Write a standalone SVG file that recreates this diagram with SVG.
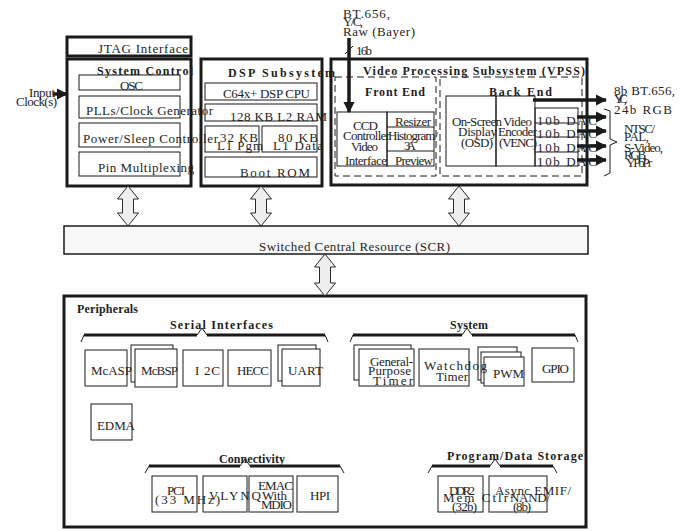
<svg xmlns="http://www.w3.org/2000/svg" width="685" height="531" viewBox="0 0 685 531">
<defs>
<style>
text{font-family:"Liberation Serif","Times New Roman",serif;font-size:13px;fill:#1e1e1e}
.b{font-weight:bold;font-size:12px}
.thick{fill:none;stroke:#1a1a1a;stroke-width:3}
.thin{fill:none;stroke:#1a1a1a;stroke-width:1}
.thinw{fill:#fff;stroke:#1a1a1a;stroke-width:1}
.dash{fill:none;stroke:#1a1a1a;stroke-width:1;stroke-dasharray:7,4}
.bus{fill:#eeeeee;stroke:#2a2a2a;stroke-width:1}
.brace{fill:none;stroke:#1a1a1a;stroke-width:1}
.braceT{fill:none;stroke:#1a1a1a;stroke-width:3}
.ln{fill:none;stroke:#1a1a1a;stroke-width:1}
.tk{fill:none;stroke:#1a1a1a;stroke-width:3.5}
</style>
<marker id="ah" viewBox="0 0 10 10" refX="9" refY="5" markerWidth="3.2" markerHeight="3.2" orient="auto" markerUnits="strokeWidth">
<path d="M0,0 L10,5 L0,10 Z" fill="#1a1a1a"/>
</marker>
</defs>
<rect width="685" height="531" fill="#fff"/>

<g id="input-clock">
<text x="29" y="97" textLength="26">Input</text>
<text x="16" y="106" textLength="41">Clock(s)</text>
</g>

<g id="jtag">
<rect class="thick" x="67" y="37" width="124" height="19"/>
<text x="98" y="53" textLength="90">JTAG Interface</text>
</g>

<g id="system-control">
<rect class="thick" x="67" y="59" width="124" height="127"/>
<rect class="thin" x="79" y="75" width="101" height="15"/>
<rect class="thin" x="79" y="96" width="101" height="22"/>
<rect class="thin" x="79" y="123" width="101" height="24"/>
<rect class="thin" x="79" y="152" width="101" height="24"/>
<text class="b" x="97" y="75" textLength="96">System Control</text>
<text x="120" y="90" textLength="23">OSC</text>
<text x="86" y="115" textLength="127">PLLs/Clock Generator</text>
<text x="83" y="143" textLength="135">Power/Sleep Controller</text>
<text x="98" y="172" textLength="96">Pin Multiplexing</text>
</g>

<g id="dsp-subsystem">
<rect class="thick" x="201" y="59" width="121" height="127"/>
<rect class="thin" x="205" y="83" width="112" height="17"/>
<rect class="thin" x="205" y="104" width="112" height="17"/>
<rect class="thin" x="205" y="126" width="54" height="26"/>
<rect class="thin" x="262" y="126" width="55" height="26"/>
<rect class="thin" x="205" y="157" width="112" height="20"/>
<text class="b" x="228" y="77" textLength="107">DSP Subsystem</text>
<text x="223" y="98" textLength="87">C64x+ DSP CPU</text>
<text x="230" y="121" textLength="97">128 KB L2 RAM</text>
<text x="220" y="142" textLength="38">32 KB</text>
<text x="217" y="150" textLength="46">L1 Pgm</text>
<text x="278" y="142" textLength="40">80 KB</text>
<text x="273" y="150" textLength="50">L1 Data</text>
<text x="240" y="177" textLength="70">Boot ROM</text>
</g>

<g id="vpss">
<rect class="thick" x="331" y="59" width="256" height="126"/>
<rect class="dash" x="335" y="77" width="101" height="99"/>
<rect class="thin" x="337" y="112" width="50" height="54"/>
<rect class="thin" x="387" y="112" width="47" height="54"/>
<line class="ln" x1="387" y1="127" x2="434" y2="127"/>
<line class="ln" x1="387" y1="151" x2="434" y2="151"/>
<rect class="dash" x="440" y="77" width="142" height="99"/>
<rect class="thin" x="446" y="96" width="50" height="70"/>
<rect class="thin" x="496" y="96" width="39" height="70"/>
<rect class="thin" x="535" y="108" width="43" height="58"/>
<line class="ln" x1="535" y1="123" x2="578" y2="123"/>
<line class="ln" x1="535" y1="137" x2="578" y2="137"/>
<line class="ln" x1="535" y1="152" x2="578" y2="152"/>
<text class="b" x="363" y="75" textLength="222">Video Processing Subsystem (VPSS)</text>
<text class="b" x="365" y="96" textLength="60">Front End</text>
<text x="353" y="130" textLength="25">CCD</text>
<text x="343" y="140" textLength="47">Controller</text>
<text x="351" y="151" textLength="27">Video</text>
<text x="345" y="165" textLength="42">Interface</text>
<text x="395" y="126" textLength="36">Resizer</text>
<text x="388" y="140" textLength="50">Histogram/</text>
<text x="404" y="150" textLength="12">3A</text>
<text x="395" y="165" textLength="38">Preview</text>
<text class="b" x="489" y="96" textLength="63">Back End</text>
<text x="452" y="126" textLength="50">On-Screen</text>
<text x="458" y="136" textLength="39">Display</text>
<text x="461" y="147" textLength="32">(OSD)</text>
<text x="503" y="126" textLength="29">Video</text>
<text x="498" y="136" textLength="39">Encoder</text>
<text x="499" y="147" textLength="38">(VENC)</text>
<text x="537" y="125" textLength="60">10b DAC</text>
<text x="537" y="138" textLength="60">10b DAC</text>
<text x="537" y="152" textLength="60">10b DAC</text>
<text x="537" y="166" textLength="60">10b DAC</text>
</g>

<g id="vpss-labels">
<text x="343" y="18" textLength="47">BT.656,</text>
<text x="343" y="26" textLength="20">Y/C,</text>
<text x="343" y="36" textLength="72">Raw (Bayer)</text>
<text x="356" y="55" textLength="16">16b</text>
<text x="614" y="95" textLength="61">8b BT.656,</text>
<text x="614" y="103" textLength="13">Y/C,</text>
<text x="614" y="114" textLength="58">24b RGB</text>
<text x="624" y="133" textLength="31">NTSC/</text>
<text x="624" y="141" textLength="25">PAL,</text>
<text x="624" y="152" textLength="39">S-Video,</text>
<text x="624" y="159" textLength="23">RGB,</text>
<text x="626" y="167" textLength="26">YPbPr</text>
</g>

<g id="scr">
<rect x="64" y="226" width="524" height="28" fill="#f8f8f8" stroke="#1a1a1a" stroke-width="1.5"/>
<text x="259" y="251" textLength="191">Switched Central Resource (SCR)</text>
</g>

<g id="peripherals">
<rect class="thick" x="64" y="296" width="522" height="231"/>
<text class="b" x="77" y="313" textLength="61">Peripherals</text>

<rect class="thinw" x="85" y="350" width="42" height="36"/>
<rect class="thinw" x="131" y="345" width="42" height="37"/>
<rect class="thinw" x="135" y="349" width="42" height="38"/>
<rect class="thinw" x="183" y="350" width="40" height="36"/>
<rect class="thinw" x="228" y="350" width="43" height="36"/>
<rect class="thinw" x="278" y="345" width="38" height="36"/>
<rect class="thinw" x="282" y="349" width="38" height="37"/>
<rect class="thinw" x="91" y="404" width="41" height="36"/>
<text class="b" x="170" y="329" textLength="103">Serial Interfaces</text>
<text x="91" y="375" textLength="41">McASP</text>
<text x="141" y="375" textLength="37">McBSP</text>
<text x="195" y="375" textLength="25">I 2C</text>
<text x="237" y="375" textLength="32">HECC</text>
<text x="288" y="375" textLength="35">UART</text>
<text x="97" y="430" textLength="38">EDMA</text>

<rect class="thinw" x="354" y="345" width="57" height="35"/>
<rect class="thinw" x="359" y="349" width="55" height="37"/>
<rect class="thinw" x="419" y="349" width="50" height="37"/>
<rect class="thinw" x="478" y="347" width="39" height="33"/>
<rect class="thinw" x="481" y="352" width="40" height="31"/>
<rect class="thinw" x="484" y="357" width="40" height="29"/>
<rect class="thinw" x="532" y="348" width="42" height="34"/>
<text class="b" x="450" y="329" textLength="38">System</text>
<text x="370" y="366" textLength="43">General-</text>
<text x="368" y="375" textLength="43">Purpose</text>
<text x="373" y="385" textLength="40">Timer</text>
<text x="424" y="370" textLength="63">Watchdog</text>
<text x="436" y="381" textLength="32">Timer</text>
<text x="493" y="378" textLength="31">PWM</text>
<text x="542" y="373" textLength="27">GPIO</text>

<rect class="thin" x="152" y="476" width="45" height="36"/>
<rect class="thin" x="203" y="476" width="44" height="36"/>
<rect class="thin" x="249" y="476" width="44" height="36"/>
<rect class="thin" x="297" y="476" width="41" height="36"/>
<text class="b" x="219" y="463" textLength="66">Connectivity</text>
<text x="167" y="495" textLength="18">PCI</text>
<text x="155" y="504" textLength="65">(33 MHz)</text>
<text x="209" y="500" textLength="52">VLYNQ</text>
<text x="258" y="490" textLength="35">EMAC</text>
<text x="262" y="500" textLength="25">With</text>
<text x="261" y="509" textLength="31">MDIO</text>
<text x="310" y="500" textLength="20">HPI</text>

<rect class="thin" x="438" y="476" width="45" height="36"/>
<rect class="thin" x="489" y="476" width="58" height="36"/>
<text class="b" x="447" y="460" textLength="136">Program/Data Storage</text>
<text x="449" y="495" textLength="26">DDR2</text>
<text x="443" y="502" textLength="65">Mem Ctlr</text>
<text x="452" y="511" textLength="25">(32b)</text>
<text x="495" y="495" textLength="76">Async EMIF/</text>
<text x="510" y="502" textLength="40">NAND/</text>
<text x="513" y="511" textLength="18">(8b)</text>
</g>

<g id="connectors">
<path class="bus" d="M128,186 L138.5,199 L133.5,199 L133.5,213 L138.5,213 L128,226 L117.5,213 L122.5,213 L122.5,199 L117.5,199 Z"/>
<path class="bus" d="M261,186 L271.5,199 L266.5,199 L266.5,213 L271.5,213 L261,226 L250.5,213 L255.5,213 L255.5,199 L250.5,199 Z"/>
<path class="bus" d="M459,186 L469.5,199 L464.5,199 L464.5,213 L469.5,213 L459,226 L448.5,213 L453.5,213 L453.5,199 L448.5,199 Z"/>
<path class="bus" d="M325,254 L335.5,267 L330.5,267 L330.5,283 L335.5,283 L325,296 L314.5,283 L319.5,283 L319.5,267 L314.5,267 Z"/>

<line class="tk" x1="53" y1="94" x2="67" y2="94" stroke-width="3" marker-end="url(#ah)"/>
<line class="tk" x1="349" y1="38" x2="349" y2="112" stroke-width="3" marker-end="url(#ah)"/>
<line class="ln" x1="345" y1="54" x2="353" y2="46"/>

<line class="tk" x1="533" y1="100" x2="606" y2="100" marker-end="url(#ah)"/>
<line class="tk" x1="577" y1="117" x2="606" y2="117" marker-end="url(#ah)"/>
<line class="tk" x1="577" y1="131" x2="606" y2="131" marker-end="url(#ah)"/>
<line class="tk" x1="577" y1="146" x2="606" y2="146" marker-end="url(#ah)"/>
<line class="tk" x1="577" y1="160" x2="606" y2="160" marker-end="url(#ah)"/>
<path class="ln" d="M604,109 L610,111 L610,139 L617,142 L610,145 L610,173 L604,176" stroke-width="2"/>

<path class="brace" d="M81,342 L84,335 M325,335 L328,342 M197,335 L202,328 L207,335"/>
<path class="braceT" d="M84,335 H197 M207,335 H325"/>
<path class="brace" d="M350,342 L353,335 M575,335 L578,342 M462,335 L467,328 L472,335"/>
<path class="braceT" d="M353,335 H462 M472,335 H575"/>
<path class="brace" d="M145,473 L149,466 M340,466 L344,473 M240,466 L245,459 L250,466"/>
<path class="braceT" d="M149,466 H240 M250,466 H340"/>
<path class="brace" d="M428,473 L432,466 M553,466 L557,473 M490,466 L495,459 L500,466"/>
<path class="braceT" d="M432,466 H490 M500,466 H553"/>
</g>
</svg>
